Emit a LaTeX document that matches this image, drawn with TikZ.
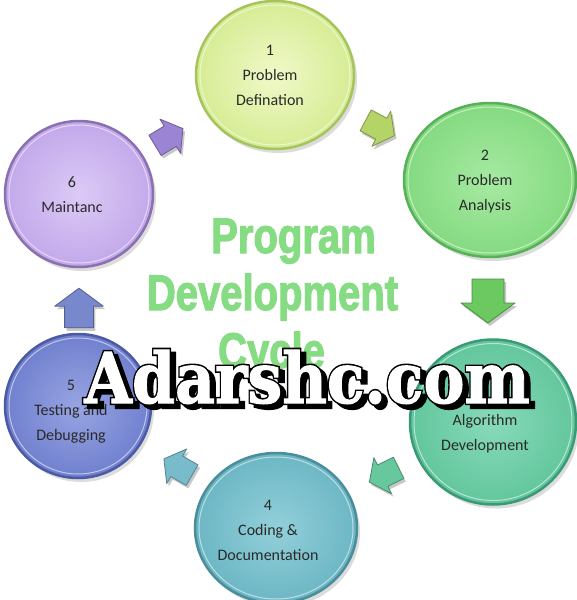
\documentclass[tikz,border=0pt]{standalone}
\usepackage{fontspec}
\setmainfont{Carlito}
\newfontfamily\titlefont[FakeBold=2.5]{Liberation Sans Bold}
\newfontfamily\wmthick[FakeBold=6]{DejaVu Serif Bold}
\newfontfamily\wmthin[FakeBold=1.5]{DejaVu Serif Bold}
\usetikzlibrary{shapes.geometric}

\definecolor{inA}{HTML}{F0F9C8}\definecolor{outA}{HTML}{D6EC94}\definecolor{rimA}{HTML}{A6C45C}\definecolor{arA}{HTML}{B4D468}
\definecolor{inB}{HTML}{A6EAA2}\definecolor{outB}{HTML}{84DA80}\definecolor{rimB}{HTML}{58B058}\definecolor{arB}{HTML}{6CC860}
\definecolor{inC}{HTML}{88DABA}\definecolor{outC}{HTML}{62C69C}\definecolor{rimC}{HTML}{3A9A78}\definecolor{arC}{HTML}{66C89C}
\definecolor{inD}{HTML}{92D0DA}\definecolor{outD}{HTML}{6CB6C4}\definecolor{rimD}{HTML}{4A8E9C}\definecolor{arD}{HTML}{78BCCC}
\definecolor{inE}{HTML}{98A4E2}\definecolor{outE}{HTML}{7080CE}\definecolor{rimE}{HTML}{4A5AA4}\definecolor{arE}{HTML}{7888CC}
\definecolor{inF}{HTML}{DCCAF6}\definecolor{outF}{HTML}{C2A8EA}\definecolor{rimF}{HTML}{8A70B0}\definecolor{arF}{HTML}{9C84D4}
\definecolor{titlegreen}{HTML}{86DC82}
\definecolor{labeltext}{HTML}{2A2A2A}

\newcommand\ball[8]{%
  \node[ellipse, minimum width=#4pt, minimum height=#5pt, fill=black!30, opacity=.45, inner sep=0] (#1s) at (#2+3,#3+4) {};
  \node[ellipse, minimum width=#4pt, minimum height=#5pt, inner color=#6, outer color=#7, draw=#8, line width=2.5pt, inner sep=0] (#1) at (#2,#3) {};
  \node[ellipse, minimum width=#4pt-8pt, minimum height=#5pt-8pt, draw=white, opacity=.55, line width=1pt, inner sep=0] (#1r) at (#2,#3) {};
}
\newcommand\blockarrow[5]{%
  \fill[black!22, shift={(#1+2,#2+3)}, rotate=#3, scale=#4] (-22,-16) -- (2,-16) -- (2,-27) -- (22,0) -- (2,27) -- (2,16) -- (-22,16) -- cycle;
  \filldraw[fill=#5, draw=#5!70!black, line width=0.8pt, line join=round, shift={(#1,#2)}, rotate=#3, scale=#4] (-22,-16) -- (2,-16) -- (2,-27) -- (22,0) -- (2,27) -- (2,16) -- (-22,16) -- cycle;
}

\begin{document}
\begin{tikzpicture}[x=1pt,y=-1pt,
  lbl/.style={align=center, font=\fontsize{16}{25}\selectfont, text=labeltext, inner sep=0},
  ttl/.style={anchor=base, inner sep=0, xscale=0.8, text=titlegreen, font=\titlefont\fontsize{50}{50}\selectfont},
  wm/.style={anchor=base, inner sep=0, xscale=0.88, font=\fontsize{70}{70}\selectfont}]
\useasboundingbox (0,0) rectangle (577,600);
\fill[white] (0,0) rectangle (577,600);

% circles
\ball{c1}{275}{75}{158}{148}{inA}{outA}{rimA}
\ball{c2}{490}{180}{172}{154}{inB}{outB}{rimB}
\ball{c3}{493}{422}{166}{165}{inC}{outC}{rimC}
\ball{c4}{276}{528}{162}{150}{inD}{outD}{rimD}
\ball{c5}{78}{406}{146}{144}{inE}{outE}{rimE}
\ball{c6}{79}{194}{148}{146}{inF}{outF}{rimF}

% labels
\node[lbl] (t1) at (270,75) {1\\Problem\\Defination};
\node[lbl] (t2) at (485,182) {2\\Problem\\Analysis};
\node[lbl] (t3) at (485,422) {3\\Algorithm\\Development};
\node[lbl] (t4) at (268,530) {4\\Coding \&\\Documentation};
\node[lbl] (t5) at (71,412) {5\\Testing and\\Debugging};
\node[lbl] (t6) at (72,195) {6\\Maintanc};

% block arrows
\blockarrow{380}{128}{-28}{0.74}{arA}
\blockarrow{488}{301}{-90}{1}{arB}
\blockarrow{384}{475}{206}{0.74}{arC}
\blockarrow{178}{467}{150}{0.74}{arD}
\blockarrow{79}{308}{90}{0.9}{arE}
\blockarrow{169}{137}{31}{0.74}{arF}

% title
\node[ttl] (p1) at (293.5,253) {Program};
\node[ttl] (p2) at (272.5,310) {Development};
\node[ttl] (p3) at (271.5,368) {Cycle};

% watermark
\node[wm, text=black] (w0) at (312,407) {\wmthick Adarshc.com};
\node[wm, text=black] (w1) at (307,403) {\wmthick Adarshc.com};
\node[wm, text=white] (w2) at (307,403) {\wmthin Adarshc.com};
\end{tikzpicture}
\end{document}
